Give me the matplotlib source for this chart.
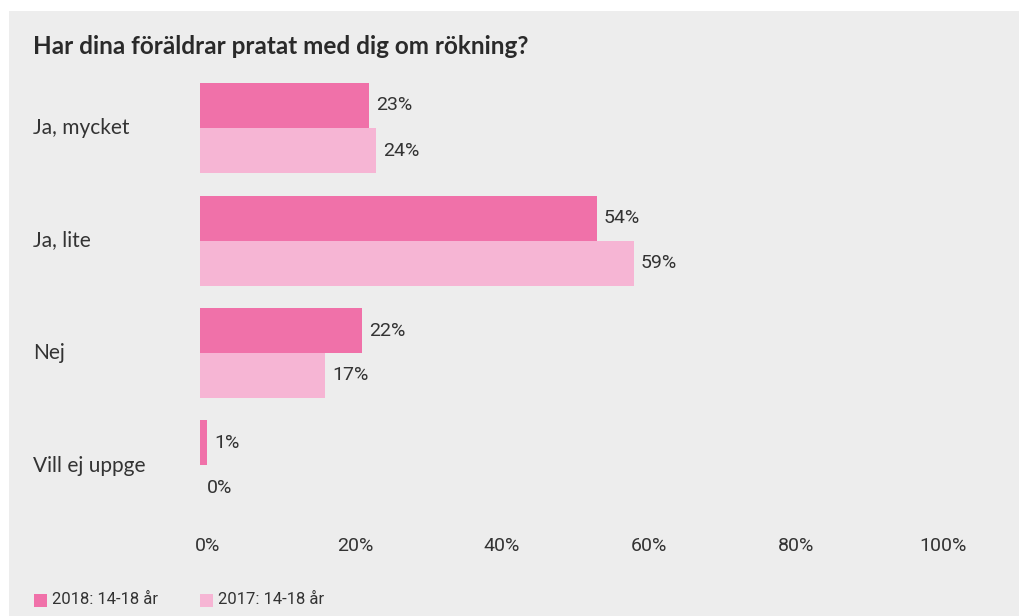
import numpy as np
import matplotlib.pyplot as plt
import matplotlib.transforms as mtransforms
from matplotlib.patches import Rectangle

categories = ["Ja, mycket", "Ja, lite", "Nej", "Vill ej uppge"]
values_2018 = [23, 54, 22, 1]
values_2017 = [24, 59, 17, 0]
series_labels = ["2018: 14-18 år", "2017: 14-18 år"]
xticks = [0, 20, 40, 60, 80, 100]

col_2018 = "#f071a9"
col_2017 = "#f6b5d4"
bg = "#ededed"
txt = "#333333"
num_font = ["Liberation Sans Narrow", "Roboto", "DejaVu Sans"]
lab_font = ["Lato", "DejaVu Sans"]

W, H = 1019, 616
fig = plt.figure(figsize=(W / 100, H / 100), dpi=100, facecolor="white")

# grey card behind everything
fig.patches.append(Rectangle((9 / W, 0), (W - 9) / W, (H - 11) / H,
                             transform=fig.transFigure, facecolor=bg,
                             edgecolor="none", zorder=-5))

ax_top, ax_bot = 71.75, 521.75
ax = fig.add_axes([200 / W, 1 - ax_bot / H, 735 / W, (ax_bot - ax_top) / H])
ax.set_facecolor("none")
for s in ax.spines.values():
    s.set_visible(False)

y = np.arange(len(categories))
h = 0.4
ax.barh(y - h / 2, values_2018, height=h, color=col_2018, label=series_labels[0])
ax.barh(y + h / 2, values_2017, height=h, color=col_2017, label=series_labels[1])
ax.set_xlim(0, 100)
ax.set_ylim(len(categories) - 0.5, -0.5)

# value labels
for yy, v18, v17 in zip(y, values_2018, values_2017):
    for off, v in ((-h / 2, v18), (h / 2, v17)):
        ax.annotate(f"{v}%", (v, yy + off), xytext=(5, 0), textcoords="offset points",
                    va="center", ha="left", fontsize=14, color=txt, family=num_font)

# category labels at the left edge of the card
ytrans = mtransforms.blended_transform_factory(fig.transFigure, ax.transData)
for yy, c in zip(y, categories):
    ax.text(33 / W, yy, c, transform=ytrans, va="center", ha="left",
            fontsize=15, color=txt, family=lab_font)

ax.set_yticks([])
ax.set_xticks(xticks)
ax.set_xticklabels([f"{t}%" for t in xticks], fontsize=14, color=txt, family=num_font)
ax.tick_params(axis="x", length=0, pad=11)
shift = mtransforms.ScaledTranslation(8 / 100, 0, fig.dpi_scale_trans)
for lbl in ax.get_xticklabels():
    lbl.set_transform(lbl.get_transform() + shift)

fig.text(33 / W, 1 - 46 / H, "Har dina föräldrar pratat med dig om rökning?",
         fontsize=17.5, fontweight="bold", color="#2a2a2a", family=lab_font, va="center")

# legend
for x0, col, lab in ((34, col_2018, series_labels[0]), (200, col_2017, series_labels[1])):
    fig.patches.append(Rectangle((x0 / W, 1 - 607 / H), 13 / W, 13 / H,
                                 transform=fig.transFigure, facecolor=col, edgecolor="none"))
    fig.text((x0 + 18) / W, 1 - 600 / H, lab, fontsize=12, color=txt,
             family=num_font, va="center")

fig.savefig("out.png", dpi=100, facecolor="white")
